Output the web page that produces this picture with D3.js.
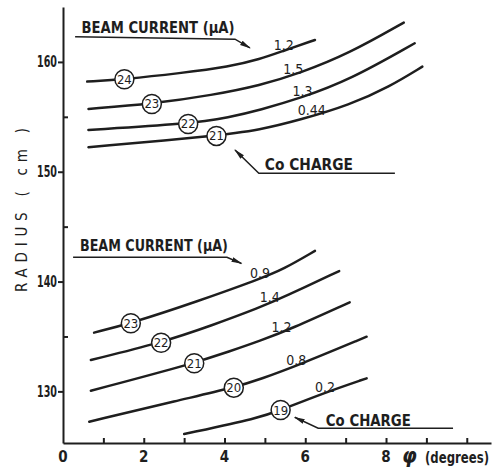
<!DOCTYPE html>
<html>
<head>
<meta charset="utf-8">
<script src="https://cdn.jsdelivr.net/npm/d3@7"></script>
<style>
    body { margin: 0; background: #fff; }
    svg text { font-family: "Liberation Sans Narrow", "DejaVu Sans Condensed", sans-serif; fill: #1e1e1e; }
</style>
</head>
<body>
<svg width="498" height="470"></svg>
<script>
// upper group (4 curves), points are [phi (deg), radius (cm)]
var upperCharges = [24, 23, 22, 21]
var upperCurrents = ["1.2", "1.5", "1.3", "0.44"]
var upperCurves = [
    [[0.60, 158.21], [1.52, 158.42], [2.90, 158.97], [4.13, 159.57], [4.88, 160.25], [5.45, 161.00], [6.24, 162.00]],
    [[0.63, 155.72], [2.20, 156.17], [3.72, 156.99], [4.88, 157.86], [5.87, 158.97], [7.10, 160.79], [8.44, 163.58]],
    [[0.63, 153.81], [3.10, 154.35], [4.13, 154.96], [4.88, 155.63], [5.87, 156.69], [7.10, 158.36], [8.71, 161.70]],
    [[0.63, 152.23], [3.80, 153.26], [4.88, 153.81], [5.87, 154.72], [7.10, 156.08], [8.09, 157.75], [8.90, 159.57]]
]
var upperMarkX = [1.52, 2.20, 3.10, 3.80]
var upperLabelX = [5.47, 5.70, 5.93, 6.16]

// lower group (5 curves)
var lowerCharges = [23, 22, 21, 20, 19]
var lowerCurrents = ["0.9", "1.4", "1.2", "0.8", "0.2"]
var lowerCurves = [
    [[0.77, 135.35], [1.68, 136.20], [3.31, 138.17], [4.88, 140.25], [5.45, 141.10], [6.24, 142.79]],
    [[0.69, 132.86], [2.43, 134.43], [3.72, 136.05], [4.88, 137.65], [5.45, 138.55], [6.84, 140.96]],
    [[0.69, 130.06], [3.25, 132.56], [4.13, 133.65], [4.88, 134.60], [5.62, 135.65], [7.10, 138.11]],
    [[0.65, 127.24], [2.90, 129.22], [4.23, 130.34], [4.88, 131.10], [5.87, 132.45], [7.52, 134.98]],
    [[3.00, 126.12], [4.88, 127.60], [5.39, 128.30], [6.44, 129.83], [7.52, 131.19]]
]
var lowerMarkX = [1.68, 2.43, 3.25, 4.23, 5.39]
var lowerLabelX = [4.88, 5.12, 5.41, 5.78, 6.49]

var xMajor = [0, 2, 4, 6, 8]
var yMajor = [130, 140, 150, 160]
var yMinor = [135, 145, 155]

// annotation leader lines, ending in an arrow
var notes = [
    {text: "BEAM  CURRENT (\u03BCA)", at: [0.46, 162.63], w: 153, line: [[0.30, 162.30], [4.26, 162.07], [4.63, 161.27]]},
    {text: "Co   CHARGE", at: [5.00, 150.16], w: 88, line: [[8.22, 149.86], [4.85, 149.86], [4.26, 151.98]]},
    {text: "BEAM  CURRENT (\u03BCA)", at: [0.42, 142.74], w: 148, line: [[0.25, 142.21], [4.06, 142.21], [4.42, 141.65]]},
    {text: "Co   CHARGE", at: [6.51, 126.89], w: 85, line: [[9.66, 126.64], [6.32, 126.64], [5.74, 127.64]]}
]

var svg = d3.select("svg")
var ink = "#1e1e1e"

var scX = d3.scaleLinear().domain([0, 10.6]).range([63, 491])
var scY = d3.scaleLinear().domain([125.3, 165]).range([443, 7])

svg.append("defs").append("marker")
    .attr("id", "arr").attr("markerUnits", "userSpaceOnUse")
    .attr("markerWidth", 11).attr("markerHeight", 6)
    .attr("refX", 10).attr("refY", 3).attr("orient", "auto")
    .append("path").attr("d", "M0,0.5 L11,3 L0,5.5 Z").attr("fill", ink)

// axes
var gx = svg.append("g").attr("transform", "translate(0,443)")
    .call(d3.axisBottom(scX).tickValues(d3.range(1, 11)).tickSizeInner(-5).tickSizeOuter(0).tickFormat(""))
gx.append("g").selectAll("text").data(xMajor).enter().append("text")
    .attr("x", d => scX(d)).attr("y", 19).attr("text-anchor", "middle")
    .attr("font-size", 15).attr("font-weight", "bold").text(d => d)

var gy = svg.append("g").attr("transform", "translate(63,0)")
    .call(d3.axisLeft(scY).tickValues(yMajor).tickSizeInner(5).tickSizeOuter(0).tickPadding(1))
svg.append("g").attr("transform", "translate(63,0)")
    .call(d3.axisRight(scY).tickValues(yMinor).tickSizeInner(5).tickSizeOuter(0).tickFormat(""))
    .select(".domain").remove()

svg.selectAll(".domain, .tick line").attr("stroke", ink).attr("stroke-width", 2)
gy.selectAll(".tick text").attr("font-size", 15).attr("font-weight", "bold").attr("fill", ink)
    .attr("textLength", 20).attr("lengthAdjust", "spacingAndGlyphs")

// axis titles
svg.append("text").attr("transform", "translate(27,210) rotate(-90)")
    .attr("text-anchor", "middle").attr("font-size", 15)
    .attr("textLength", 164).attr("lengthAdjust", "spacing")
    .text("RADIUS    ( cm )")
svg.append("text").attr("x", 402).attr("y", 463)
    .attr("font-size", 21).attr("font-style", "italic").attr("font-weight", "bold").text("\u03C6")
svg.append("text").attr("x", 425).attr("y", 463)
    .attr("font-size", 15).attr("font-weight", "bold")
    .attr("textLength", 64).attr("lengthAdjust", "spacingAndGlyphs")
    .text("(degrees)")

var yAt = function (pts, x) {
    for (var i = 1; i < pts.length; i++) {
        if (x <= pts[i][0]) {
            var t = (x - pts[i - 1][0]) / (pts[i][0] - pts[i - 1][0])
            return pts[i - 1][1] + t * (pts[i][1] - pts[i - 1][1])
        }
    }
    return pts[pts.length - 1][1]
}

var lineMaker = d3.line().curve(d3.curveBasis)
    .x(d => scX(d[0])).y(d => scY(d[1]))

var drawGroup = function (curves, charges, currents, markX, labelX) {
    var g = svg.append("g")
    curves.forEach(function (pts, i) {
        g.append("path").attr("d", lineMaker(pts))
            .attr("fill", "none").attr("stroke", ink)
            .attr("stroke-width", 2.5).attr("stroke-linecap", "round")

        var lx = labelX[i]
        g.append("text").attr("x", scX(lx)).attr("y", scY(yAt(pts, lx)) - 1)
            .attr("text-anchor", "middle").attr("font-size", 14)
            .text(currents[i])

        var mx = markX[i], my = yAt(pts, mx)
        g.append("circle").attr("cx", scX(mx)).attr("cy", scY(my)).attr("r", 9.5)
            .attr("fill", "#fff").attr("stroke", ink).attr("stroke-width", 1.5)
        g.append("text").attr("x", scX(mx)).attr("y", scY(my) + 4.5)
            .attr("text-anchor", "middle").attr("font-size", 13)
            .text(charges[i])
    })
}

drawGroup(upperCurves, upperCharges, upperCurrents, upperMarkX, upperLabelX)
drawGroup(lowerCurves, lowerCharges, lowerCurrents, lowerMarkX, lowerLabelX)

// annotations
var straight = d3.line().x(d => scX(d[0])).y(d => scY(d[1]))
notes.forEach(function (n) {
    svg.append("path").attr("d", straight(n.line))
        .attr("fill", "none").attr("stroke", ink).attr("stroke-width", 1.5)
        .attr("marker-end", "url(#arr)")
    svg.append("text").attr("x", scX(n.at[0])).attr("y", scY(n.at[1]))
        .attr("font-size", 15).attr("font-weight", "bold")
        .attr("textLength", n.w).attr("lengthAdjust", "spacingAndGlyphs")
        .text(n.text)
})
</script>
</body>
</html>
